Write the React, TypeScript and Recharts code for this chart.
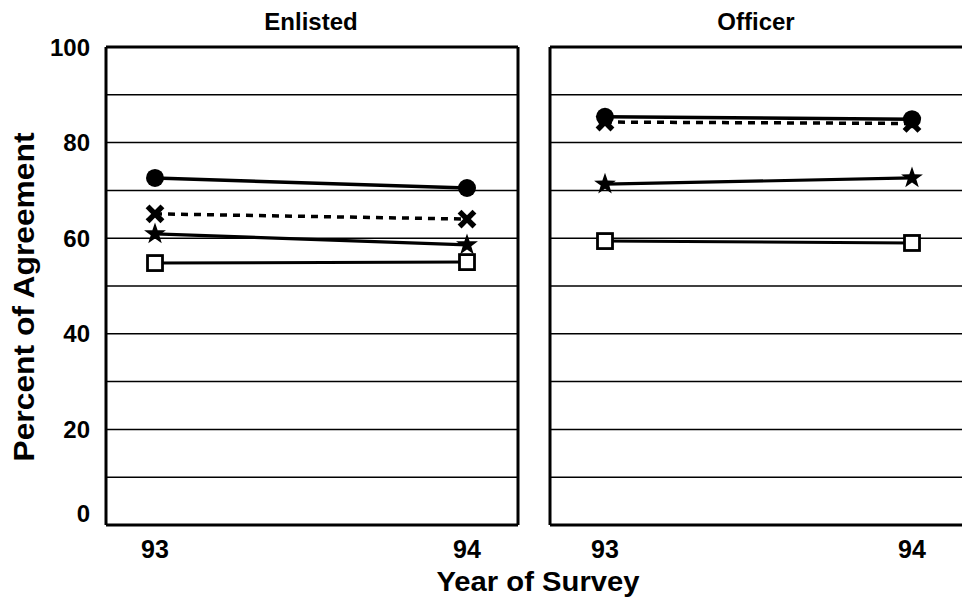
import React from "react";
import { LineChart, Line, XAxis, YAxis, ReferenceLine } from "recharts";

const years = [93, 94];
const yTicks = [0, 20, 40, 60, 80, 100];
const gridValues = [10, 20, 30, 40, 50, 60, 70, 80, 90];

const enlistedCircle = [72.6, 70.5];
const enlistedCross = [65.1, 64.0];
const enlistedStar = [60.9, 58.6];
const enlistedSquare = [54.8, 55.0];

const officerCircle = [85.4, 84.9];
const officerCross = [84.3, 84.0];
const officerStar = [71.3, 72.6];
const officerSquare = [59.4, 59.0];

const enlistedData = years.map((y, i) => ({
  year: y,
  circle: enlistedCircle[i],
  cross: enlistedCross[i],
  star: enlistedStar[i],
  square: enlistedSquare[i],
}));
const officerData = years.map((y, i) => ({
  year: y,
  circle: officerCircle[i],
  cross: officerCross[i],
  star: officerStar[i],
  square: officerSquare[i],
}));

const FONT = "'Liberation Sans', Arial, Helvetica, sans-serif";

const CircleDot = (p: any) => (
  <circle key={`c${p.index}`} cx={p.cx} cy={p.cy} r={9} fill="#000" />
);
const CrossDot = (p: any) => (
  <g key={`x${p.index}`}>
    <line x1={p.cx - 5.5} y1={p.cy - 5.5} x2={p.cx + 5.5} y2={p.cy + 5.5} stroke="#000" strokeWidth={5.5} strokeLinecap="square" />
    <line x1={p.cx - 5.5} y1={p.cy + 5.5} x2={p.cx + 5.5} y2={p.cy - 5.5} stroke="#000" strokeWidth={5.5} strokeLinecap="square" />
  </g>
);
const StarDot = (p: any) => {
  const pts: string[] = [];
  for (let k = 0; k < 10; k++) {
    const r = k % 2 === 0 ? 11.5 : 4.5;
    const a = -Math.PI / 2 + (k * Math.PI) / 5;
    pts.push(`${p.cx + r * Math.cos(a)},${p.cy + r * Math.sin(a)}`);
  }
  return <polygon key={`s${p.index}`} points={pts.join(" ")} fill="#000" />;
};
const SquareDot = (p: any) => (
  <rect key={`q${p.index}`} x={p.cx - 7.5} y={p.cy - 7.5} width={15} height={15} fill="#fff" stroke="#000" strokeWidth={2.8} />
);

const YTick = (p: any) => {
  const v = p.payload.value;
  const shift = v === 0 ? -12 : 0;
  return (
    <text x={p.x} y={p.y + shift} dy="0.355em" textAnchor="end" fontFamily={FONT} fontWeight={700} fontSize={24} fill="#000">
      {v}
    </text>
  );
};

const XTick = (p: any) => (
  <text x={p.x} y={p.y} dy="0.71em" textAnchor="middle" fontFamily={FONT} fontWeight={700} fontSize={25} fill="#000">
    {p.payload.value}
  </text>
);

function Panel({ data, width, margin, domain, showY, rightBorder }: any) {
  return (
    <LineChart width={width} height={598} data={data} margin={margin}>
      <XAxis
        dataKey="year"
        type="number"
        domain={domain}
        ticks={years}
        allowDataOverflow
        axisLine={false}
        tickLine={false}
        tickSize={0}
        tickMargin={15}
        height={30}
        tick={XTick}
        interval={0}
      />
      <YAxis
        type="number"
        domain={[0, 100]}
        ticks={yTicks}
        hide={!showY}
        width={showY ? 106 : 0}
        axisLine={false}
        tickLine={false}
        tickSize={0}
        tickMargin={16}
        tick={YTick}
        interval={0}
      />
      {gridValues.map((g) => (
        <ReferenceLine key={g} y={g} stroke="#000" strokeWidth={1.5} />
      ))}
      <ReferenceLine y={0} stroke="#000" strokeWidth={3} />
      <ReferenceLine y={100} stroke="#000" strokeWidth={3} />
      <ReferenceLine x={domain[0]} stroke="#000" strokeWidth={3} />
      {rightBorder ? <ReferenceLine x={domain[1]} stroke="#000" strokeWidth={3} /> : null}
      <Line dataKey="square" stroke="#000" strokeWidth={3} dot={SquareDot} isAnimationActive={false} />
      <Line dataKey="star" stroke="#000" strokeWidth={3.2} dot={StarDot} isAnimationActive={false} />
      <Line dataKey="cross" stroke="#000" strokeWidth={3.5} strokeDasharray="7 6" dot={CrossDot} isAnimationActive={false} />
      <Line dataKey="circle" stroke="#000" strokeWidth={3.5} dot={CircleDot} isAnimationActive={false} />
    </LineChart>
  );
}

export default function App() {
  return (
    <div style={{ position: "absolute", left: 0, top: 0, width: 962, height: 598, overflow: "hidden", background: "#fff" }}>
      <div style={{ position: "absolute", left: 0, top: 0 }}>
        <Panel
          data={enlistedData}
          width={530}
          margin={{ top: 47, right: 12, left: 0, bottom: 43 }}
          domain={[93 - 49 / 312, 94 + 51 / 312]}
          showY
          rightBorder
        />
      </div>
      <div style={{ position: "absolute", left: 540, top: 0, width: 422 }}>
        <Panel
          data={officerData}
          width={422}
          margin={{ top: 47, right: 0, left: 10, bottom: 43 }}
          domain={[93 - 55 / 307, 94 + 50 / 307]}
          showY={false}
          rightBorder={false}
        />
      </div>
      <svg width={962} height={598} style={{ position: "absolute", left: 0, top: 0, pointerEvents: "none" }}>
        <text x={311} y={30} textAnchor="middle" fontFamily={FONT} fontWeight={700} fontSize={24} fill="#000">Enlisted</text>
        <text x={756} y={30} textAnchor="middle" fontFamily={FONT} fontWeight={700} fontSize={24} fill="#000">Officer</text>
        <text x={538} y={591} textAnchor="middle" fontFamily={FONT} fontWeight={700} fontSize={28} fill="#000" textLength={203} lengthAdjust="spacingAndGlyphs">Year of Survey</text>
        <text transform="translate(34,297) rotate(-90)" textAnchor="middle" fontFamily={FONT} fontWeight={700} fontSize={30} fill="#000" textLength={329} lengthAdjust="spacingAndGlyphs">Percent of Agreement</text>
      </svg>
    </div>
  );
}
